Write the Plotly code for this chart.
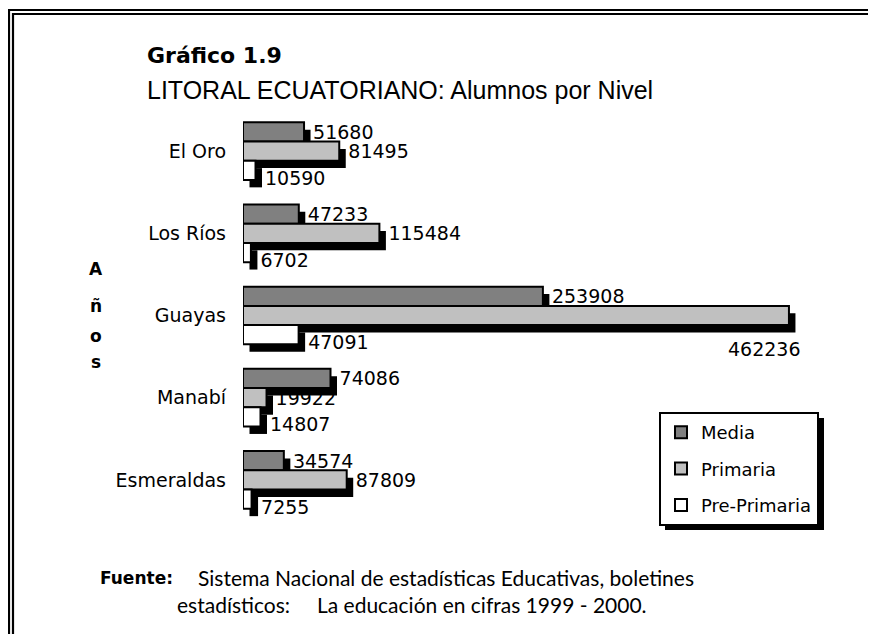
import plotly.graph_objects as go

# ---------------- data ----------------
regions = ["El Oro", "Los Ríos", "Guayas", "Manabí", "Esmeraldas"]
media = [51680, 47233, 253908, 74086, 34574]
primaria = [81495, 115484, 462236, 19922, 87809]
pre_primaria = [10590, 6702, 47091, 14807, 7255]
series_names = ["Media", "Primaria", "Pre-Primaria"]

# ---------------- layout geometry ----------------
FIG_W, FIG_H = 876, 634
OFF = 8  # page body margin
PLOT_L, PLOT_R, PLOT_T, PLOT_B = 243, 843, 110, 521  # target window pixels
L = PLOT_L - OFF
T = PLOT_T - OFF
R = FIG_W - (PLOT_R - OFF)
B = FIG_H - (PLOT_B - OFF)
PW = PLOT_R - PLOT_L
PH = PLOT_B - PLOT_T
XMAX = 508000


def px_x(p):
    return (p - PLOT_L) / PW


def px_y(p):
    return (PLOT_B - p) / PH


BW = 0.234
OFFS = [-0.351, -0.117, 0.117]
DY = 0.09
DX = 6.5 * XMAX / PW
COLORS = ["#808080", "#c0c0c0", "#ffffff"]
NB = "\u00a0"
LBL_FONT = dict(family="DejaVu Sans", size=19, color="black")

fig = go.Figure()
all_vals = [media, primaria, pre_primaria]

# shadows first (drawn below)
for i, vals in enumerate(all_vals):
    kw = {}
    if i == 2:
        kw = dict(text=[str(v) for v in vals], textposition="outside",
                  textfont=LBL_FONT)
    fig.add_trace(go.Bar(
        y=regions, x=vals, base=[DX] * len(vals), orientation="h",
        offset=OFFS[i] + DY, width=BW,
        marker=dict(color="black", line=dict(width=0)),
        showlegend=False, hoverinfo="skip", constraintext="none",
        cliponaxis=False, **kw))

# main bars
for i, vals in enumerate(all_vals):
    kw = {}
    if i == 0:
        kw = dict(text=[NB + str(v) for v in vals], textposition="outside",
                  textfont=LBL_FONT)
    elif i == 1:
        pos = ["none" if v == max(vals) else "outside" for v in vals]
        kw = dict(text=[NB + str(v) for v in vals], textposition=pos,
                  textfont=LBL_FONT)
    fig.add_trace(go.Bar(
        y=regions, x=vals, orientation="h", name=series_names[i],
        offset=OFFS[i], width=BW, legendgroup=series_names[i],
        marker=dict(color=COLORS[i], line=dict(color="black", width=2)),
        constraintext="none", cliponaxis=False, **kw))

# label for largest primaria value (placed under the bar end)
imax = primaria.index(max(primaria))
annotations = [dict(
    x=primaria[imax], y=imax + 0.41, xref="x", yref="y",
    text=str(primaria[imax]), showarrow=False, xanchor="right",
    yanchor="middle", xshift=14, font=LBL_FONT)]

# titles
annotations.append(dict(
    x=px_x(145), y=px_y(55), xref="paper", yref="paper",
    text="<b>Gráfico 1.9</b>", showarrow=False, xanchor="left",
    yanchor="middle", font=dict(family="DejaVu Sans", size=22, color="black")))
annotations.append(dict(
    x=px_x(145), y=px_y(90), xref="paper", yref="paper",
    text="LITORAL ECUATORIANO: Alumnos por Nivel", showarrow=False,
    xanchor="left", yanchor="middle",
    font=dict(family="Liberation Sans", size=25, color="black")))

# vertical axis title "Años" (stacked letters)
for ch, yc in zip(["A", "ñ", "o", "s"], [269, 305.5, 335.5, 362]):
    annotations.append(dict(
        x=px_x(96), y=px_y(yc), xref="paper", yref="paper",
        text="<b>" + ch + "</b>", showarrow=False, xanchor="center",
        yanchor="middle",
        font=dict(family="DejaVu Sans", size=17, color="black")))

# source
annotations.append(dict(
    x=px_x(98), y=px_y(578), xref="paper", yref="paper",
    text="<b>Fuente:</b>", showarrow=False, xanchor="left", yanchor="middle",
    font=dict(family="DejaVu Sans", size=17, color="black")))
annotations.append(dict(
    x=px_x(196), y=px_y(577), xref="paper", yref="paper",
    text="Sistema Nacional de estadísticas Educativas, boletines",
    showarrow=False, xanchor="left", yanchor="middle",
    font=dict(family="Lato", size=21, color="black")))
annotations.append(dict(
    x=px_x(175), y=px_y(604), xref="paper", yref="paper",
    text="estadísticos:" + NB * 5 + "La educación en cifras 1999 - 2000.",
    showarrow=False, xanchor="left", yanchor="middle",
    font=dict(family="Lato", size=21, color="black")))

# frame (double lines top and left) + legend shadow
shapes = []
for yy in (10, 14):
    x0 = 9 if yy == 10 else 13
    shapes.append(dict(type="line", xref="paper", yref="paper",
                       x0=px_x(x0), x1=px_x(FIG_W + 20), y0=px_y(yy), y1=px_y(yy),
                       line=dict(color="black", width=2.2)))
for xx in (9, 13):
    y0 = 9 if xx == 9 else 13
    shapes.append(dict(type="line", xref="paper", yref="paper",
                       x0=px_x(xx), x1=px_x(xx), y0=px_y(y0), y1=px_y(FIG_H + 20),
                       line=dict(color="black", width=2.2)))

LEG_L, LEG_T, LEG_W, LEG_H = 659, 412, 159, 112
shapes.append(dict(type="rect", xref="paper", yref="paper",
                   x0=px_x(LEG_L + 6), x1=px_x(LEG_L + LEG_W + 6),
                   y0=px_y(LEG_T + 6), y1=px_y(LEG_T + LEG_H + 6),
                   fillcolor="black", line=dict(width=0), layer="above"))

fig.update_layout(
    width=FIG_W, height=FIG_H,
    margin=dict(l=L, r=R, t=T, b=B, pad=0),
    paper_bgcolor="white", plot_bgcolor="white",
    barmode="overlay",
    showlegend=True,
    legend=dict(x=px_x(LEG_L), y=px_y(LEG_T), xanchor="left", yanchor="top",
                bgcolor="white", bordercolor="black", borderwidth=2,
                font=dict(family="DejaVu Sans", size=18, color="black"),
                tracegroupgap=10, traceorder="grouped"),
    xaxis=dict(visible=False, range=[0, XMAX], fixedrange=True),
    yaxis=dict(type="category", categoryorder="array", categoryarray=regions,
               range=[len(regions) - 0.5, -0.5], showgrid=False,
               zeroline=False, showline=False, ticks="",
               ticklabelstandoff=16,
               tickfont=dict(family="DejaVu Sans", size=19, color="black")),
    annotations=annotations,
    shapes=shapes,
    font=dict(family="DejaVu Sans", color="black"),
)

fig.write_html("out.html")
